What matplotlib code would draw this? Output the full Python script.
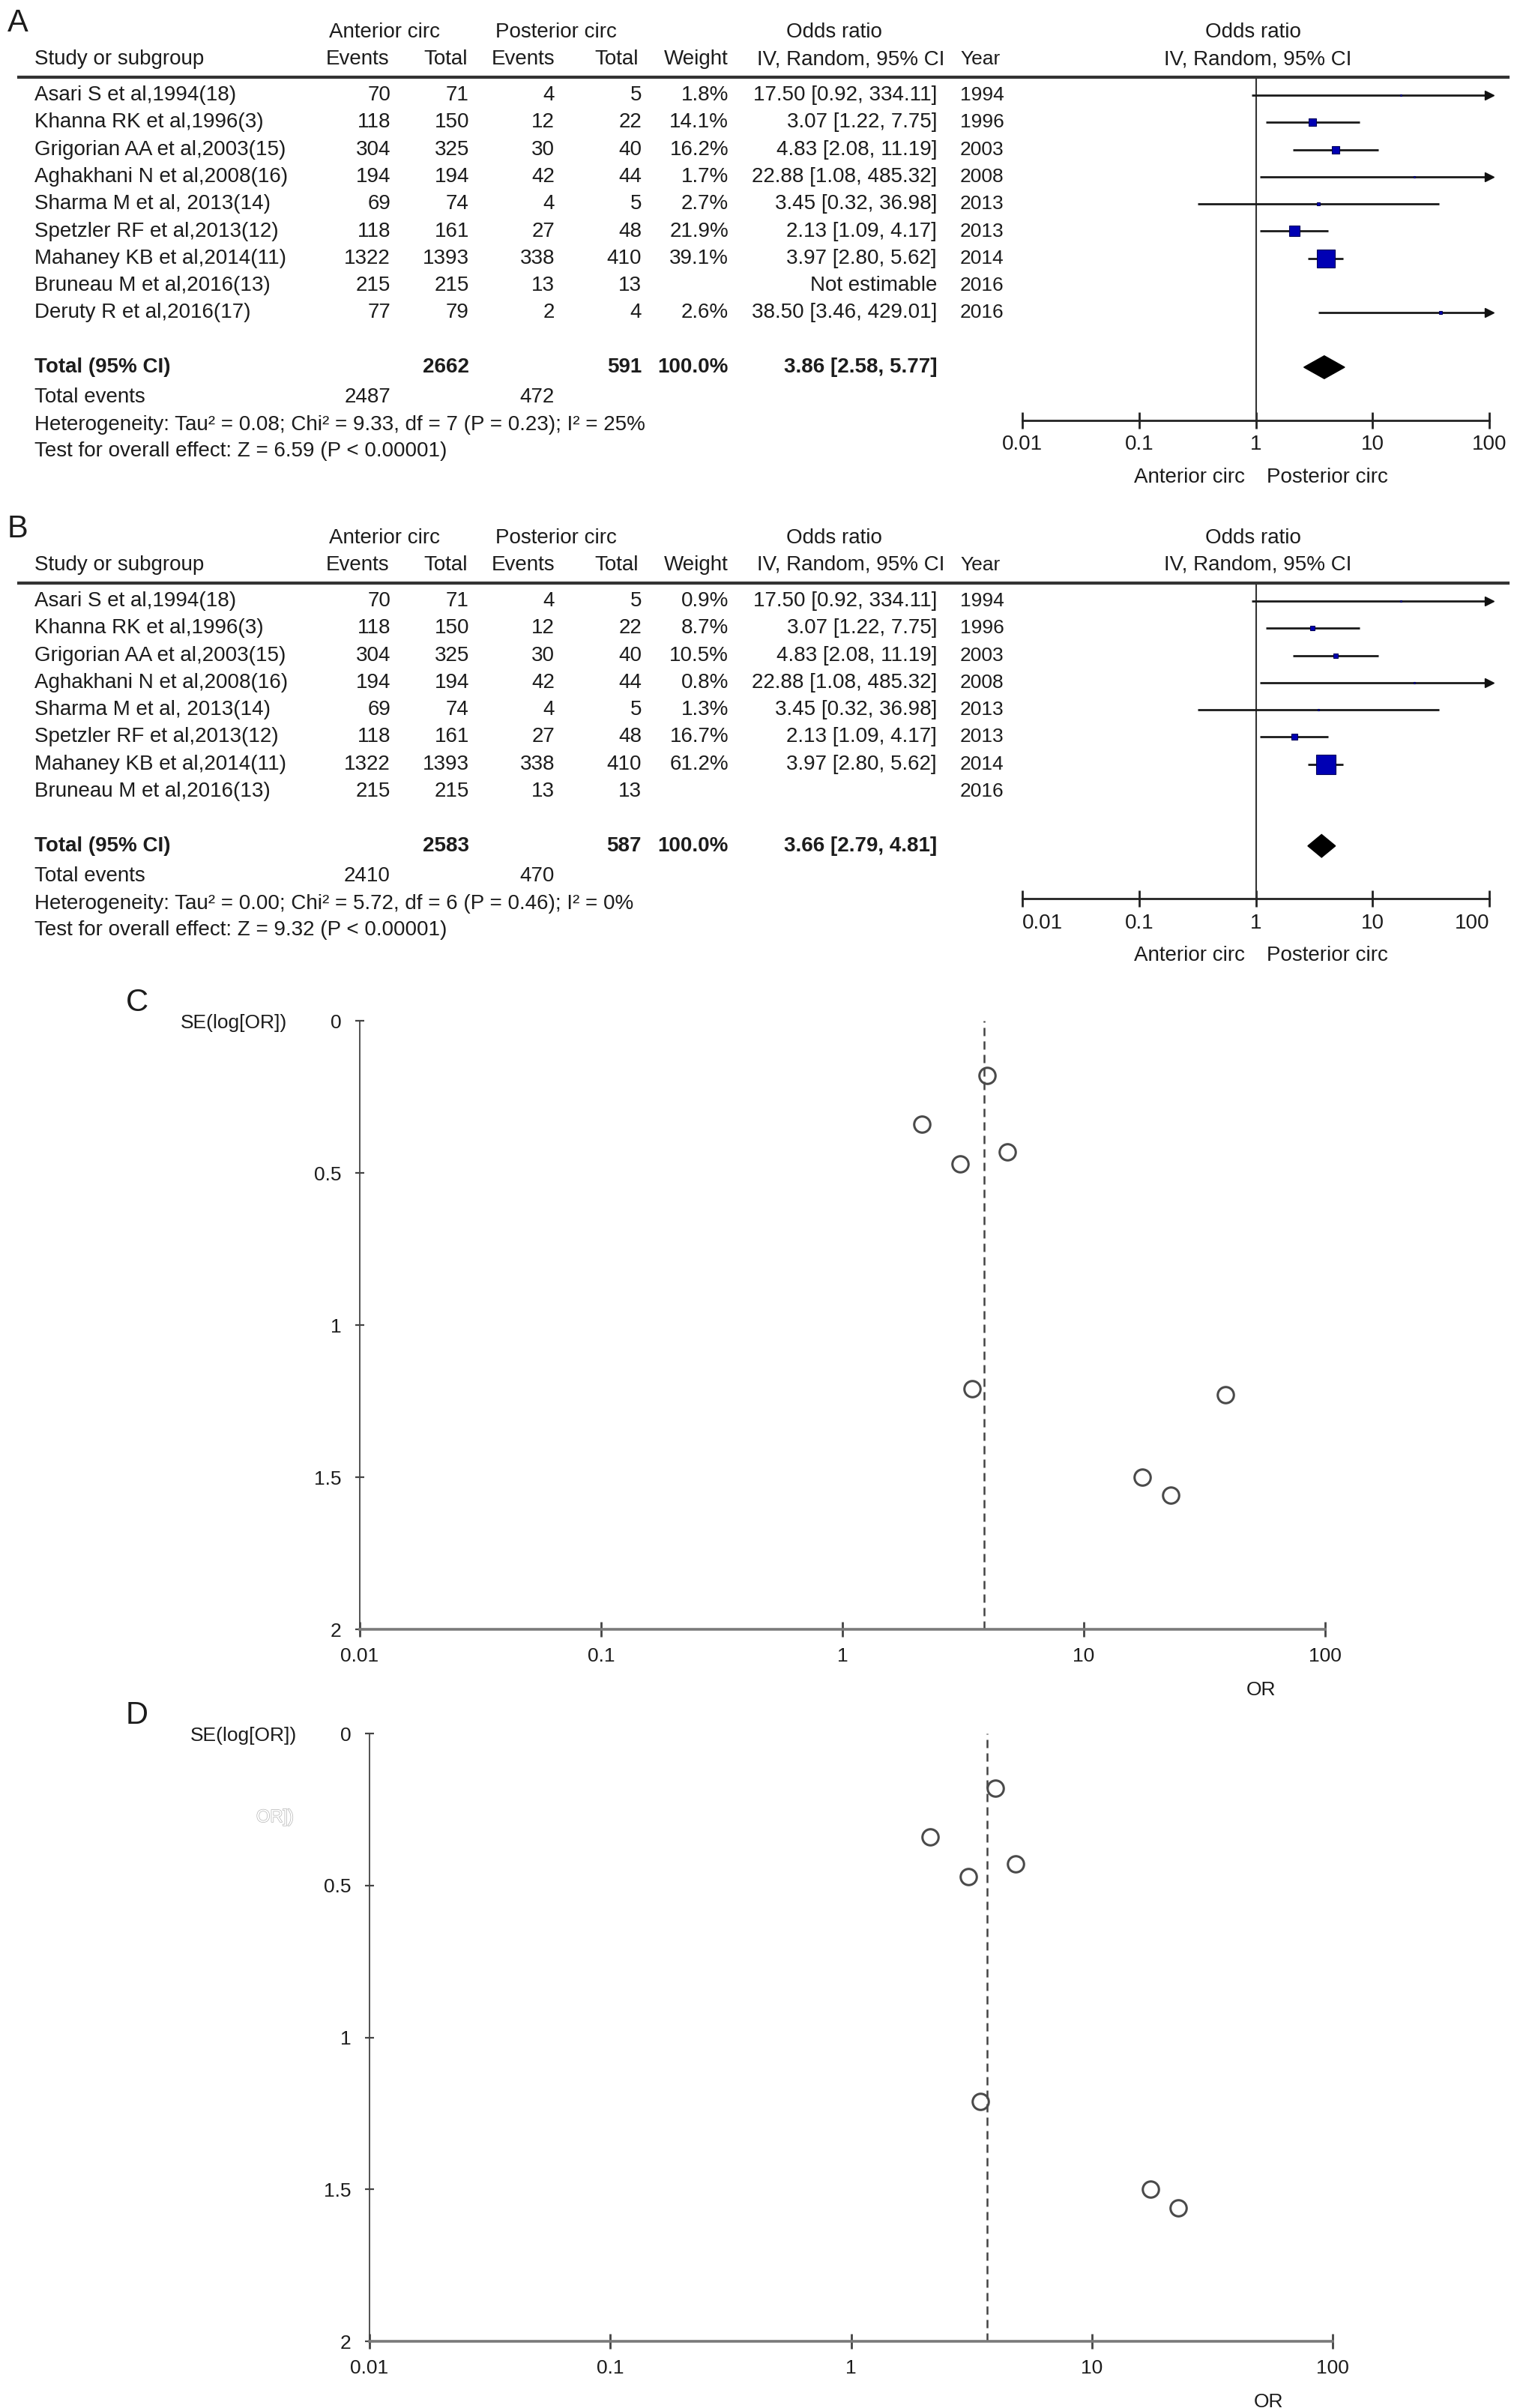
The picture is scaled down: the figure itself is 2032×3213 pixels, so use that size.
import matplotlib
matplotlib.use('Agg')
import matplotlib.pyplot as plt
import matplotlib.patheffects as pe
from matplotlib.transforms import Affine2D
from matplotlib.lines import Line2D
from matplotlib import font_manager

W, H, DPI = 2032, 3213, 100

# ---- data ----
studies = ["Asari S et al,1994(18)", "Khanna RK et al,1996(3)", "Grigorian AA et al,2003(15)",
           "Aghakhani N et al,2008(16)", "Sharma M et al, 2013(14)", "Spetzler RF et al,2013(12)",
           "Mahaney KB et al,2014(11)", "Bruneau M et al,2016(13)", "Deruty R et al,2016(17)"]
ant_events = [70, 118, 304, 194, 69, 118, 1322, 215, 77]
ant_total = [71, 150, 325, 194, 74, 161, 1393, 215, 79]
post_events = [4, 12, 30, 42, 4, 27, 338, 13, 2]
post_total = [5, 22, 40, 44, 5, 48, 410, 13, 4]
years = [1994, 1996, 2003, 2008, 2013, 2013, 2014, 2016, 2016]
or_est = [17.50, 3.07, 4.83, 22.88, 3.45, 2.13, 3.97, None, 38.50]
or_lo = [0.92, 1.22, 2.08, 1.08, 0.32, 1.09, 2.80, None, 3.46]
or_hi = [334.11, 7.75, 11.19, 485.32, 36.98, 4.17, 5.62, None, 429.01]
weight_a = [1.8, 14.1, 16.2, 1.7, 2.7, 21.9, 39.1, None, 2.6]
weight_b = [0.9, 8.7, 10.5, 0.8, 1.3, 16.7, 61.2, None]

total_a = dict(ant=2662, post=591, ev_ant=2487, ev_post=472, est=3.86, lo=2.58, hi=5.77,
               het="Heterogeneity: Tau² = 0.08; Chi² = 9.33, df = 7 (P = 0.23); I² = 25%",
               test="Test for overall effect: Z = 6.59 (P < 0.00001)")
total_b = dict(ant=2583, post=587, ev_ant=2410, ev_post=470, est=3.66, lo=2.79, hi=4.81,
               het="Heterogeneity: Tau² = 0.00; Chi² = 5.72, df = 6 (P = 0.46); I² = 0%",
               test="Test for overall effect: Z = 9.32 (P < 0.00001)")

# funnel plots: OR and SE(log[OR]) of each estimable study
funnel_or_c = [17.50, 3.07, 4.83, 22.88, 3.45, 2.13, 3.97, 38.50]
funnel_se_c = [1.50, 0.47, 0.43, 1.56, 1.21, 0.34, 0.18, 1.23]
funnel_or_d = [17.50, 3.07, 4.83, 22.88, 3.45, 2.13, 3.97]
funnel_se_d = [1.50, 0.47, 0.43, 1.56, 1.21, 0.34, 0.18]
or_ticks = [0.01, 0.1, 1, 10, 100]
or_labels = ['0.01', '0.1', '1', '10', '100']
se_ticks = [0, 0.5, 1, 1.5, 2]
se_labels = ['0', '0.5', '1', '1.5', '2']

installed = {f.name for f in font_manager.fontManager.ttflist}
NARROW = 'Liberation Sans Narrow' if 'Liberation Sans Narrow' in installed else 'Liberation Sans'
TSIZE = 18 if NARROW == 'Liberation Sans Narrow' else 20
SANS = 'Liberation Sans'
plt.rcParams['font.family'] = [SANS, 'DejaVu Sans']

fig = plt.figure(figsize=(W / DPI, H / DPI), dpi=DPI)
fig.patch.set_facecolor('white')
pix = Affine2D().scale(1 / DPI, -1 / DPI).translate(0, H / DPI) + fig.dpi_scale_trans
INK = '#1c1c1c'


def txt(x, y, s, ha='left', size=None, family=NARROW, weight='normal', color=INK, **kw):
    return fig.text(x, y, s, transform=pix, ha=ha, va='center', fontsize=size or TSIZE,
                    family=[family, 'DejaVu Sans'], weight=weight, color=color, **kw)


def ax_at(l, t, r, b):
    return fig.add_axes([l / W, 1 - b / H, (r - l) / W, (b - t) / H])


def forest_panel(letter, y0, n, weights, tot, not_est, msc, ends_inside):
    step = 36.3
    ry = lambda r: y0 + r * step
    txt(10, y0 - 96, letter, size=30, family=SANS)
    # headers
    txt(513, y0 - 84, 'Anterior circ', ha='center')
    txt(742, y0 - 84, 'Posterior circ', ha='center')
    txt(1113, y0 - 84, 'Odds ratio', ha='center')
    txt(46, y0 - 48, 'Study or subgroup')
    for x, s in [(519, 'Events'), (624, 'Total'), (740, 'Events'), (852, 'Total'),
                 (972, 'Weight'), (1260, 'IV, Random, 95% CI')]:
        txt(x, y0 - 48, s, ha='right')
    txt(1281, y0 - 48, 'Year', family=SANS, size=19)
    txt(1672, y0 - 84, 'Odds ratio', ha='center', family=SANS, size=20)
    txt(1678, y0 - 48, 'IV, Random, 95% CI', ha='center', family=SANS, size=20)
    rule = y0 - 24
    fig.add_artist(Line2D([25 / W, 2012 / W], [1 - rule / H] * 2, transform=fig.transFigure,
                          lw=3, color='#333333'))
    # study rows
    for i in range(n):
        y = ry(i)
        txt(46, y, studies[i])
        txt(521, y, str(ant_events[i]), ha='right')
        txt(626, y, str(ant_total[i]), ha='right')
        txt(740, y, str(post_events[i]), ha='right')
        txt(856, y, str(post_total[i]), ha='right')
        if weights[i] is not None:
            txt(972, y, f'{weights[i]:.1f}%', ha='right')
            txt(1250, y, f'{or_est[i]:.2f} [{or_lo[i]:.2f}, {or_hi[i]:.2f}]', ha='right')
        elif not_est:
            txt(1250, y, 'Not estimable', ha='right')
        txt(1281, y, str(years[i]), family=SANS, size=19)
    tr = n + 1
    txt(46, ry(tr), 'Total (95% CI)', weight='bold')
    txt(626, ry(tr), str(tot['ant']), ha='right', weight='bold')
    txt(856, ry(tr), str(tot['post']), ha='right', weight='bold')
    txt(972, ry(tr), '100.0%', ha='right', weight='bold')
    txt(1250, ry(tr), f"{tot['est']:.2f} [{tot['lo']:.2f}, {tot['hi']:.2f}]", ha='right', weight='bold')
    txt(46, ry(tr + 1.1), 'Total events')
    txt(521, ry(tr + 1.1), str(tot['ev_ant']), ha='right')
    txt(740, ry(tr + 1.1), str(tot['ev_post']), ha='right')
    txt(46, ry(tr + 2.13), tot['het'])
    txt(46, ry(tr + 3.09), tot['test'])

    # forest axes
    axis_row = tr + 1.95
    ax = ax_at(1364, rule, 1987, ry(axis_row))
    ax.set_xscale('log')
    ax.set_xlim(0.01, 100)
    ax.set_ylim(axis_row, -24 / step)
    ax.axvline(1, color='#333333', lw=1.5)
    for i in range(n):
        if weights[i] is None:
            continue
        ax.hlines(i, or_lo[i], min(or_hi[i], 100), color='#1a1a1a', lw=2)
        if or_hi[i] > 100:
            ax.plot(100, i, marker='>', ms=9, color='#111111', clip_on=False)
        side = (2 + msc * weights[i]) * 0.72
        ax.plot(or_est[i], i, 's', ms=side, mfc='#0000b4', mec='#00005a', mew=0.8)
    ax.fill([tot['lo'], tot['est'], tot['hi'], tot['est']],
            [tr, tr - 0.42, tr, tr + 0.42], color='black')
    for s in ['top', 'left', 'right']:
        ax.spines[s].set_visible(False)
    ax.spines['bottom'].set_linewidth(2)
    ax.spines['bottom'].set_color('#222222')
    ax.set_yticks([])
    ax.set_xticks(or_ticks)
    ax.set_xticklabels(or_labels, family=[SANS], fontsize=20, color=INK)
    ax.minorticks_off()
    ax.tick_params(axis='x', direction='inout', length=16, width=2, color='#222222', pad=6)
    if ends_inside:
        labs = ax.get_xticklabels()
        labs[0].set_ha('left')
        labs[-1].set_ha('right')
    ax.patch.set_alpha(0)
    yb = ry(axis_row)
    txt(1661, yb + 76, 'Anterior circ', ha='right', family=SANS, size=20)
    txt(1690, yb + 76, 'Posterior circ', ha='left', family=SANS, size=20)


def funnel_panel(letter, l, t, r, b, ors, ses, pooled, or_x, ghost=False):
    txt(168, t - 24, letter, size=30, family=SANS)
    txt(l - 239, t + 3, 'SE(log[OR])', size=19)
    ax = ax_at(l, t, r, b)
    ax.set_xscale('log')
    ax.set_xlim(0.01, 100)
    ax.set_ylim(2, 0)
    ax.axvline(pooled, color='#444444', lw=1.8, ls=(0, (4.4, 2.8)))
    ax.plot(ors, ses, 'o', ms=15.5, mfc='none', mec='#4a4a4a', mew=2.2, clip_on=False)
    for s in ['top', 'right']:
        ax.spines[s].set_visible(False)
    ax.spines['left'].set_color('#444444')
    ax.spines['left'].set_linewidth(1.3)
    ax.spines['bottom'].set_color('#7a7a7a')
    ax.spines['bottom'].set_linewidth(2.6)
    ax.set_xticks(or_ticks)
    ax.set_xticklabels(or_labels, family=[NARROW], fontsize=19, color=INK)
    ax.set_yticks(se_ticks)
    ax.set_yticklabels(se_labels, family=[NARROW], fontsize=19, color=INK)
    ax.minorticks_off()
    ax.tick_params(axis='x', direction='inout', length=14, width=2, color='#444444', pad=10)
    ax.tick_params(axis='y', direction='inout', length=9, width=1.6, color='#444444', pad=13)
    ax.set_xlabel('OR', family=[NARROW], fontsize=19, color=INK)
    ax.xaxis.set_label_coords((or_x - l) / (r - l), -0.085)
    if ghost:
        txt(342, 2425, 'OR])', size=17, color='white',
            path_effects=[pe.withStroke(linewidth=1.0, foreground='#b4b4b4')])


forest_panel('A', 127, 9, weight_a, total_a, True, 0.55, False)
forest_panel('B', 802, 8, weight_b, total_b, False, 0.4, True)
funnel_panel('C', 480, 1362, 1768, 2174, funnel_or_c, funnel_se_c, total_a['est'], 1683)
funnel_panel('D', 493, 2313, 1778, 3124, funnel_or_d, funnel_se_d, total_b['est'], 1692, ghost=True)

fig.savefig('out.png', dpi=DPI, facecolor='white')
